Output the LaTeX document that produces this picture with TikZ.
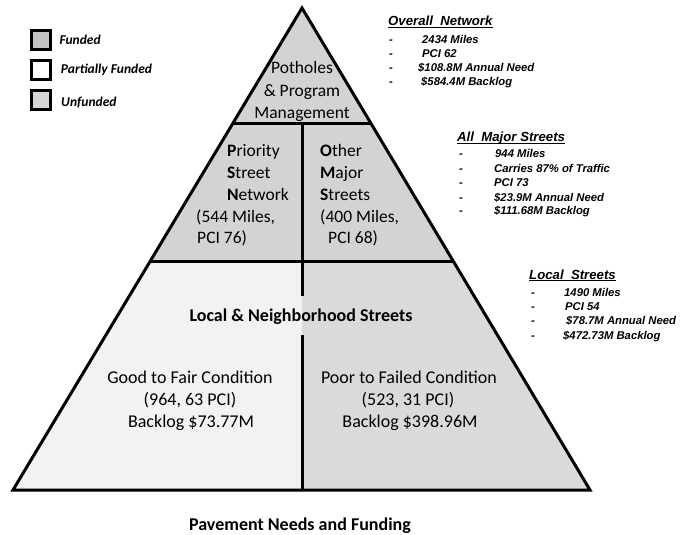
\documentclass[tikz,border=0pt]{standalone}
\usepackage{fontspec}
\setmainfont{Carlito}
\newfontfamily\arialf{Liberation Sans}
\usetikzlibrary{calc}
\definecolor{fundc}{HTML}{D3D3D3}
\definecolor{partc}{HTML}{F2F2F2}
\definecolor{unfc}{HTML}{DADADA}
\definecolor{legfund}{HTML}{C4C4C4}
\definecolor{legunf}{HTML}{D6D6D6}
\begin{document}
\begin{tikzpicture}[x=1pt,y=-1pt,
  edge/.style={line width=3pt},
  legbox/.style={draw, line width=3pt, minimum size=19pt, inner sep=0pt},
  legtext/.style={anchor=base west, inner sep=0pt, font=\bfseries\itshape\fontsize{13.5}{16}\selectfont},
  ptext/.style={anchor=base, inner sep=0pt, font=\fontsize{17.5}{21}\selectfont},
  pleft/.style={anchor=base west, inner sep=0pt, font=\fontsize{17.5}{21}\selectfont},
  ctext/.style={anchor=base, inner sep=0pt, font=\fontsize{18}{22}\selectfont},
  btext/.style={anchor=base, inner sep=0pt, font=\bfseries\fontsize{18}{22}\selectfont},
  rhead/.style={anchor=base west, inner sep=0pt, font=\arialf\bfseries\itshape\fontsize{13.2}{16}\selectfont},
  ritem/.style={anchor=base west, inner sep=0pt, font=\arialf\bfseries\itshape\fontsize{11.3}{13}\selectfont},
  uline/.style={line width=0.9pt}]
\useasboundingbox (0,0) rectangle (685,535);

% pyramid geometry
\coordinate (A) at (302,8);
\coordinate (BL) at (13,490);
\coordinate (BR) at (590,490);
\coordinate (L1) at ($(A)!0.2386!(BL)$);
\coordinate (R1) at ($(A)!0.2386!(BR)$);
\coordinate (L2) at ($(A)!0.5249!(BL)$);
\coordinate (R2) at ($(A)!0.5249!(BR)$);
\coordinate (M1) at (302,123);
\coordinate (M2) at (302,261);
\coordinate (M3) at (302,490);
\coordinate (G1) at (302,296);
\coordinate (G2) at (302,335);

\fill[fundc] (A) -- (L1) -- (R1) -- cycle;
\fill[fundc] (L1) -- (R1) -- (R2) -- (L2) -- cycle;
\fill[partc] (L2) -- (M2) -- (M3) -- (BL) -- cycle;
\fill[unfc] (M2) -- (R2) -- (BR) -- (M3) -- cycle;

\draw[edge] (A) -- (BL) -- (BR) -- cycle;
\draw[edge] (L1) -- (R1);
\draw[edge] (L2) -- (R2);
\draw[edge] (M1) -- (G1);
\draw[edge] (G2) -- (M3);

% pyramid texts
\node[ptext] (pt1) at (302,73.5) {Potholes};
\node[ptext] (pt2) at (302,96) {\& Program};
\node[ptext] (pt3) at (302,118.5) {Management};

\node[pleft] (ps1) at (227,156.7) {\textbf{P}riority};
\node[pleft] (ps2) at (227,178.5) {\textbf{S}treet};
\node[pleft] (ps3) at (227,200.5) {\textbf{N}etwork};
\node[pleft] (ps4) at (196,222.3) {(544 Miles,};
\node[pleft] (ps5) at (197,243.5) {PCI 76)};

\node[pleft] (om1) at (320,156.7) {\textbf{O}ther};
\node[pleft] (om2) at (320,178.5) {\textbf{M}ajor};
\node[pleft] (om3) at (320,200.5) {\textbf{S}treets};
\node[pleft] (om4) at (320,222.3) {(400 Miles,};
\node[pleft] (om5) at (328,243.5) {PCI 68)};

\node[btext] (loc) at (301,321) {Local \& Neighborhood Streets};

\node[ctext] (gf1) at (190,383) {Good to Fair Condition};
\node[ctext] (gf2) at (190,405) {(964, 63 PCI)};
\node[ctext] (gf3) at (191,427) {Backlog \$73.77M};

\node[ctext] (pf1) at (409,383) {Poor to Failed Condition};
\node[ctext] (pf2) at (408,405) {(523, 31 PCI)};
\node[ctext] (pf3) at (410,427) {Backlog \$398.96M};

\node[btext] (title) at (300,530) {Pavement Needs and Funding};

% legend
\node[legbox, fill=legfund] (k1) at (41.2,40.5) {};
\node[legbox, fill=white] (k2) at (41.2,69.8) {};
\node[legbox, fill=legunf] (k3) at (41.2,100.3) {};
\node[legtext] (t1) at (59.3,44.3) {Funded};
\node[legtext] (t2) at (60.7,74) {Partially Funded};
\node[legtext] (t3) at (61,106.5) {Unfunded};

% Overall Network
\node[rhead] (h1) at (388,26) {Overall\ \ Network};
\draw[uline] ([yshift=-1.8pt]h1.base west) -- ([yshift=-1.8pt]h1.base east);
\node[ritem] (d11) at (389,43.5) {-};
\node[ritem] (d12) at (389,57) {-};
\node[ritem] (d13) at (389,71.5) {-};
\node[ritem] (d14) at (389,85) {-};
\node[ritem] (i11) at (422,43.5) {2434 Miles};
\node[ritem] (i12) at (422,57) {PCI 62};
\node[ritem] (i13) at (418,71.5) {\$108.8M Annual Need};
\node[ritem] (i14) at (421,85) {\$584.4M Backlog};

% All Major Streets
\node[rhead] (h2) at (457,141.5) {All\ \ Major Streets};
\draw[uline] ([yshift=-1.8pt]h2.base west) -- ([yshift=-1.8pt]h2.base east);
\node[ritem] (d21) at (459,157.7) {-};
\node[ritem] (d22) at (459,172.3) {-};
\node[ritem] (d23) at (459,186.7) {-};
\node[ritem] (d24) at (459,201) {-};
\node[ritem] (d25) at (459,214.5) {-};
\node[ritem] (i21) at (495,157.7) {944 Miles};
\node[ritem] (i22) at (494,172.3) {Carries 87\% of Traffic};
\node[ritem] (i23) at (494,186.7) {PCI 73};
\node[ritem] (i24) at (494,201) {\$23.9M Annual Need};
\node[ritem] (i25) at (494,214.5) {\$111.68M Backlog};

% Local Streets
\node[rhead] (h3) at (529,279) {Local\ \ Streets};
\draw[uline] ([yshift=-1.8pt]h3.base west) -- ([yshift=-1.8pt]h3.base east);
\node[ritem] (d31) at (531,296) {-};
\node[ritem] (d32) at (531,310) {-};
\node[ritem] (d33) at (531,324.3) {-};
\node[ritem] (d34) at (531,339) {-};
\node[ritem] (i31) at (564,296) {1490 Miles};
\node[ritem] (i32) at (565,310) {PCI 54};
\node[ritem] (i33) at (566,324.3) {\$78.7M Annual Need};
\node[ritem] (i34) at (563,339) {\$472.73M Backlog};
\end{tikzpicture}
\end{document}
